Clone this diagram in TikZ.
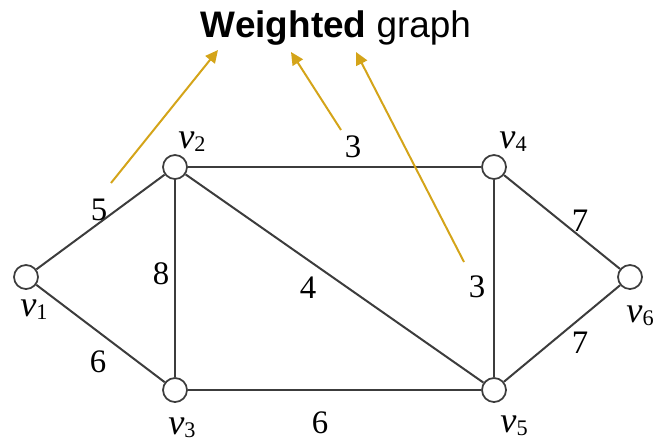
\documentclass[tikz,border=0pt]{standalone}
\usepackage{fontspec}
\setmainfont{Liberation Serif}
\newfontfamily\titlefont{Liberation Sans}
\definecolor{gold}{HTML}{D4A419}
\definecolor{edgegray}{HTML}{3C3C3C}
\usetikzlibrary{arrows.meta}
\newcommand{\vname}[1]{{\fontsize{31}{31}\selectfont\itshape v}\raisebox{-0.55ex}{\fontsize{19}{19}\selectfont #1}}

\begin{document}
\begin{tikzpicture}[x=0.03cm,y=-0.03cm,
    vertex/.style={circle,draw=edgegray,fill=white,line width=1.5pt,minimum size=0.72cm,inner sep=0pt},
    edge/.style={edgegray,line width=1.7pt},
    weight/.style={inner sep=0pt,font=\fontsize{28}{28}\selectfont},
    vlabel/.style={inner sep=0pt},
    pointer/.style={gold,line width=1.7pt,-{Triangle[length=0.38cm,width=0.36cm]}}]
  \useasboundingbox (0,0) rectangle (656,443);
  % title
  \node[anchor=base] (title) at (336,37) {\titlefont\fontsize{31.5}{31.5}\selectfont\textbf{Weighted} graph};
  % vertices
  \node[vertex] (v1) at (26,277) {};
  \node[vertex] (v2) at (175,167) {};
  \node[vertex] (v3) at (175,390) {};
  \node[vertex] (v4) at (494,167) {};
  \node[vertex] (v5) at (494,390) {};
  \node[vertex] (v6) at (630,277) {};
  % vertex names
  \node[vlabel] (n1) at (34,310) {\vname{1}};
  \node[vlabel] (n2) at (192,142) {\vname{2}};
  \node[vlabel] (n3) at (182,428) {\vname{3}};
  \node[vlabel] (n4) at (513,142) {\vname{4}};
  \node[vlabel] (n5) at (514,426) {\vname{5}};
  \node[vlabel] (n6) at (640,316) {\vname{6}};
  % edges
  \draw[edge] (v1) -- (v2);
  \draw[edge] (v1) -- (v3);
  \draw[edge] (v2) -- (v4);
  \draw[edge] (v2) -- (v3);
  \draw[edge] (v2) -- (v5);
  \draw[edge] (v3) -- (v5);
  \draw[edge] (v4) -- (v5);
  \draw[edge] (v4) -- (v6);
  \draw[edge] (v5) -- (v6);
  % weights
  \node[weight] (w12) at (99,210) {5};
  \node[weight] (w13) at (98,362) {6};
  \node[weight] (w24) at (353,147) {3};
  \node[weight] (w23) at (161,274) {8};
  \node[weight] (w25) at (308,288) {4};
  \node[weight] (w35) at (320,423) {6};
  \node[weight] (w45) at (477,287) {3};
  \node[weight] (w46) at (580,221) {7};
  \node[weight] (w56) at (580,343) {7};
  % pointers to the title
  \coordinate (p1) at (111,183);
  \coordinate (t1) at (218,50);
  \coordinate (p2) at (341,130);
  \coordinate (t2) at (291,52);
  \coordinate (p3) at (464,262);
  \coordinate (t3) at (356,52);
  \draw[pointer] (p1) -- (t1);
  \draw[pointer] (p2) -- (t2);
  \draw[pointer] (p3) -- (t3);
\end{tikzpicture}
\end{document}
